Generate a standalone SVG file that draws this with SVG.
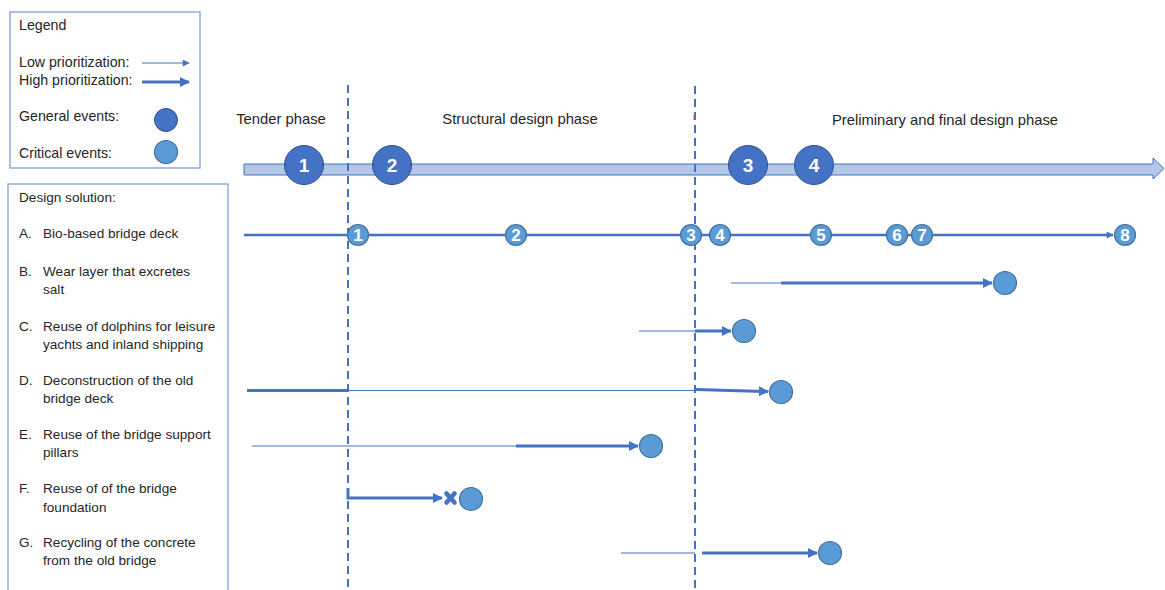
<svg xmlns="http://www.w3.org/2000/svg" width="1165" height="590" viewBox="0 0 1165 590">
  <style>
    text { font-family: "Liberation Sans", "Open Sans", sans-serif; fill: #262626; }
    .lbl { font-size: 13.6px; }
    .leg { font-size: 14.2px; }
    .ph { font-size: 14.8px; text-anchor: middle; }
    .box { fill: #ffffff; stroke: #7f9fdc; stroke-width: 1.3; }
    .thin { stroke: #4472c4; stroke-width: 1.2; fill: none; }
    .thick { stroke: #4472c4; stroke-width: 3; fill: none; }
    .phase { stroke: #4472c4; stroke-width: 2; stroke-dasharray: 8 5; fill: none; }
    .gen { fill: #4472c4; stroke: #2f528f; stroke-width: 1; }
    .crit { fill: #5b9bd5; stroke: #41719c; stroke-width: 1.2; }
    .num { fill: #ffffff; font-weight: bold; text-anchor: middle; }
    .big { font-size: 19px; }
    .small { font-size: 17px; }
  </style>
  <defs>
    <marker id="headThin" viewBox="0 0 10 10" refX="9" refY="5" markerWidth="9" markerHeight="7" markerUnits="userSpaceOnUse" orient="auto">
      <path d="M0,0 L10,5 L0,10 z" fill="#4472c4"/>
    </marker>
    <marker id="headThick" viewBox="0 0 10 10" refX="9" refY="5" markerWidth="11" markerHeight="10" markerUnits="userSpaceOnUse" orient="auto">
      <path d="M0,0 L10,5 L0,10 z" fill="#4472c4"/>
    </marker>
  </defs>

  <!-- Legend -->
  <g id="legend">
    <rect class="box" x="10" y="12" width="190" height="156"/>
    <text class="leg" x="19" y="30">Legend</text>
    <text class="leg" x="19" y="67">Low prioritization:</text>
    <line class="thin" x1="142" y1="63" x2="189" y2="63" marker-end="url(#headThin)"/>
    <text class="leg" x="19" y="85">High prioritization:</text>
    <line class="thick" x1="142" y1="82" x2="189" y2="82" marker-end="url(#headThick)"/>
    <text class="leg" x="19" y="121">General events:</text>
    <circle class="gen" cx="166" cy="120" r="11.5"/>
    <text class="leg" x="19" y="158">Critical events:</text>
    <circle class="crit" cx="166" cy="152" r="11.5"/>
  </g>

  <!-- Design solution list -->
  <g id="solutions">
    <rect class="box" x="8" y="184" width="220" height="420"/>
    <text class="lbl" x="19" y="202">Design solution:</text>
    <text class="lbl" x="19" y="238">A.</text><text class="lbl" x="43" y="238">Bio-based bridge deck</text>
    <text class="lbl" x="19" y="276">B.</text><text class="lbl" x="43" y="276">Wear layer that excretes</text>
    <text class="lbl" x="43" y="294">salt</text>
    <text class="lbl" x="19" y="331">C.</text><text class="lbl" x="43" y="331">Reuse of dolphins for leisure</text>
    <text class="lbl" x="43" y="349">yachts and inland shipping</text>
    <text class="lbl" x="19" y="385">D.</text><text class="lbl" x="43" y="385">Deconstruction of the old</text>
    <text class="lbl" x="43" y="403">bridge deck</text>
    <text class="lbl" x="19" y="439">E.</text><text class="lbl" x="43" y="439">Reuse of the bridge support</text>
    <text class="lbl" x="43" y="457">pillars</text>
    <text class="lbl" x="19" y="493">F.</text><text class="lbl" x="43" y="493">Reuse of of the bridge</text>
    <text class="lbl" x="43" y="512">foundation</text>
    <text class="lbl" x="19" y="547">G.</text><text class="lbl" x="43" y="547">Recycling of the concrete</text>
    <text class="lbl" x="43" y="565">from the old bridge</text>
  </g>

  <!-- Phase labels -->
  <g id="phases">
    <text class="ph" x="281" y="124">Tender phase</text>
    <text class="ph" x="520" y="124">Structural design phase</text>
    <text class="ph" x="945" y="125">Preliminary and final design phase</text>
  </g>

  <!-- Main timeline bar -->
  <g id="timeline">
    <path d="M244,164 L1153,164 L1153,158 L1164,168.5 L1153,179 L1153,175 L244,175 z" fill="#b4c7e7" stroke="#4472c4" stroke-width="1"/>
  </g>

  <!-- Connectors -->
  <g id="connectors">
    <!-- phase boundaries -->
    <line class="phase" x1="348" y1="85" x2="348" y2="590"/>
    <line class="phase" x1="695" y1="86" x2="695" y2="590"/>
    <line x1="694" y1="115" x2="694" y2="120" stroke="#ff3b3b" stroke-width="1"/>
    <!-- A -->
    <line x1="244" y1="235" x2="1113" y2="235" stroke="#4472c4" stroke-width="2.5" marker-end="url(#headThin)"/>
    <!-- B -->
    <line class="thin" x1="731" y1="283" x2="781" y2="283"/>
    <line class="thick" x1="781" y1="283" x2="992" y2="283" marker-end="url(#headThick)"/>
    <!-- C -->
    <line class="thin" x1="639" y1="331" x2="695" y2="331"/>
    <line class="thick" x1="695" y1="331" x2="731" y2="331" marker-end="url(#headThick)"/>
    <!-- D -->
    <line class="thick" x1="247" y1="390.5" x2="348" y2="390.5"/>
    <line class="thin" x1="348" y1="390.5" x2="695" y2="390.5"/>
    <line class="thick" x1="696" y1="389.5" x2="768" y2="391.5" marker-end="url(#headThick)"/>
    <!-- E -->
    <line class="thin" x1="252" y1="446" x2="516" y2="446"/>
    <line class="thick" x1="516" y1="446" x2="638" y2="446" marker-end="url(#headThick)"/>
    <!-- F -->
    <polyline class="thick" points="348,488 348,498 442,498" marker-end="url(#headThick)"/>
    <!-- G -->
    <line class="thin" x1="621" y1="553" x2="695" y2="553"/>
    <line class="thick" x1="702" y1="553" x2="817" y2="553" marker-end="url(#headThick)"/>
  </g>

  <!-- General events on the timeline -->
  <g id="general-1"><circle class="gen" cx="304" cy="165" r="19.5"/><text class="num big" x="304" y="172">1</text></g>
  <g id="general-2"><circle class="gen" cx="392" cy="165" r="19.5"/><text class="num big" x="392" y="172">2</text></g>
  <g id="general-3"><circle class="gen" cx="748" cy="165" r="19.5"/><text class="num big" x="748" y="172">3</text></g>
  <g id="general-4"><circle class="gen" cx="814" cy="165" r="19.5"/><text class="num big" x="814" y="172">4</text></g>

  <!-- Critical events on solution A -->
  <g id="a-1"><circle class="crit" cx="358" cy="235" r="10.5"/><text class="num small" x="358" y="241">1</text></g>
  <g id="a-2"><circle class="crit" cx="516" cy="235" r="10.5"/><text class="num small" x="516" y="241">2</text></g>
  <g id="a-3"><circle class="crit" cx="691" cy="235" r="10.5"/><text class="num small" x="691" y="241">3</text></g>
  <g id="a-4"><circle class="crit" cx="720" cy="235" r="10.5"/><text class="num small" x="720" y="241">4</text></g>
  <g id="a-5"><circle class="crit" cx="821" cy="235" r="10.5"/><text class="num small" x="821" y="241">5</text></g>
  <g id="a-6"><circle class="crit" cx="897" cy="235" r="10.5"/><text class="num small" x="897" y="241">6</text></g>
  <g id="a-7"><circle class="crit" cx="922" cy="235" r="10.5"/><text class="num small" x="922" y="241">7</text></g>
  <g id="a-8"><circle class="crit" cx="1125" cy="235" r="10.5"/><text class="num small" x="1125" y="241">8</text></g>

  <!-- Critical end events for solutions B-G -->
  <g id="b-end"><circle class="crit" cx="1005" cy="283" r="11.5"/></g>
  <g id="c-end"><circle class="crit" cx="744" cy="331" r="11.5"/></g>
  <g id="d-end"><circle class="crit" cx="781" cy="392" r="11.5"/></g>
  <g id="e-end"><circle class="crit" cx="651" cy="446" r="11.5"/></g>
  <g id="f-stop">
    <path d="M446.5,493.5 L454.5,502.5 M454.5,493.5 L446.5,502.5" stroke="#4472c4" stroke-width="4.5" stroke-linecap="round"/>
  </g>
  <g id="f-end"><circle class="crit" cx="471" cy="499" r="11.5"/></g>
  <g id="g-end"><circle class="crit" cx="830" cy="553" r="11.5"/></g>
</svg>
